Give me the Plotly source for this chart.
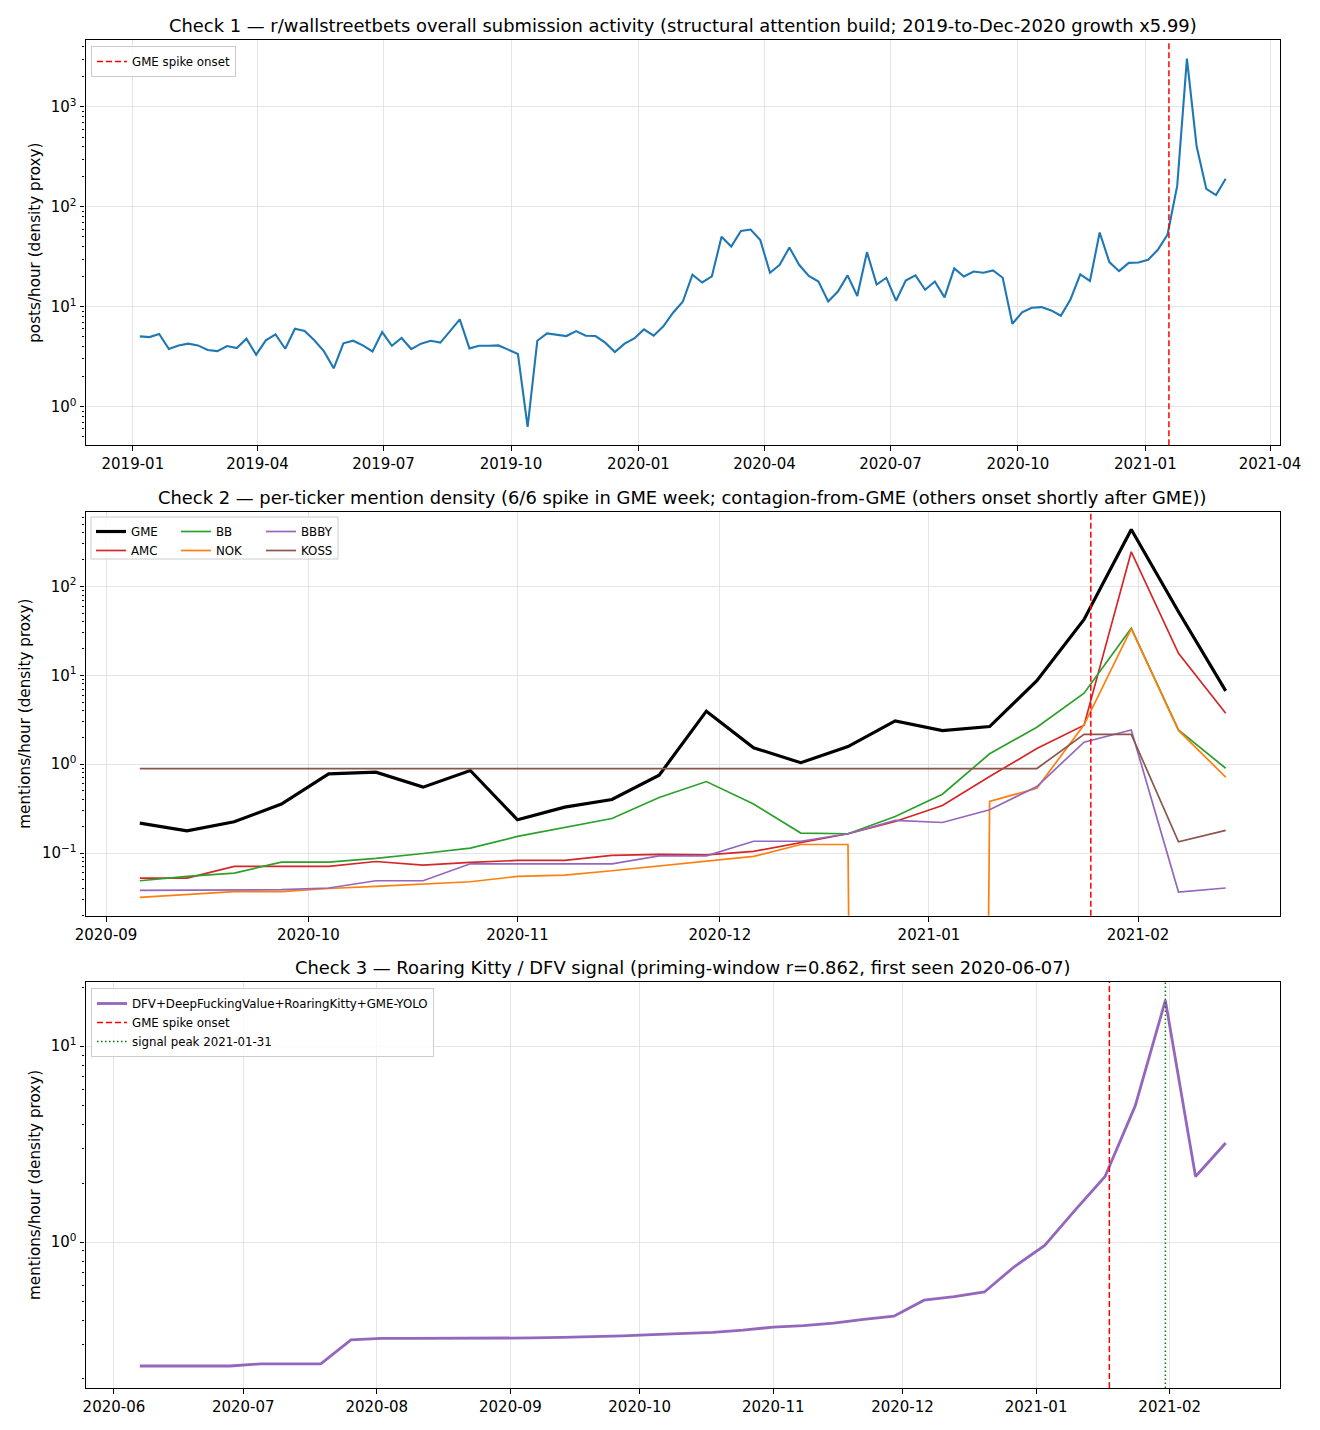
import pandas as pd
import plotly.graph_objects as go

FONT = "DejaVu Sans"
W, H = 1320, 1430
TICK_SIZE = 15.0
TITLE_SIZE = 17.9
LABEL_SIZE = 15.2
LEGEND_SIZE = 11.8

# ---------------- data ----------------
# Check 1: weekly r/wallstreetbets submissions (posts/hour), weeks starting 2019-01-06
p1_start = "2019-01-06"
wsb_posts_per_hour = [
    5.05, 4.97, 5.33, 3.77, 4.10, 4.27, 4.10, 3.69, 3.60, 4.04,
    3.86, 4.79, 3.31, 4.61, 5.29, 3.80, 6.03, 5.71, 4.61, 3.57,
    2.42, 4.30, 4.57, 4.10, 3.57, 5.58, 4.07, 4.86, 3.77, 4.27,
    4.57, 4.37, 5.71, 7.47, 3.83, 4.07, 4.07, 4.10, 3.72, 3.36,
    0.626, 4.57, 5.41, 5.21, 5.09, 5.71, 5.13, 5.09, 4.37, 3.52,
    4.27, 4.82, 5.93, 5.13, 6.36, 8.71, 11.2, 20.9, 17.5, 20.1,
    50.1, 40.1, 57.5, 59.3, 46.4, 21.9, 26.3, 39.2, 26.3, 20.3,
    17.9, 11.3, 14.2, 20.6, 12.8, 35.2, 16.7, 19.5, 11.5, 18.3,
    20.6, 14.8, 17.9, 12.4, 24.2, 20.1, 22.5, 21.9, 23.1, 19.5,
    6.76, 8.78, 9.77, 9.92, 9.19, 8.13, 11.9, 21.1, 18.1, 55.3,
    28.0, 22.7, 27.5, 27.7, 29.5, 37.2, 52.8, 163, 3043, 404,
    151, 131, 191,
]
onset_p1 = "2021-01-18"

# Check 2: per-ticker mention density, weeks starting 2020-09-06
p2_start = "2020-09-06"
gme = [0.217, 0.178, 0.225, 0.356, 0.778, 0.813, 0.552, 0.85, 0.237, 0.329, 0.401, 0.752,
       3.95, 1.53, 1.04, 1.58, 3.07, 2.39, 2.65, 8.7, 42.5, 436, 51.9, 6.67]
amc = [0.0524, 0.0524, 0.0708, 0.0708, 0.0708, 0.0805, 0.0733, 0.0785, 0.0828, 0.083, 0.0942, 0.0966,
       0.0955, 0.1045, 0.132, 0.165, 0.227, 0.343, 0.727, 1.50, 2.74, 245, 17.7, 3.74]
bb = [0.0489, 0.0547, 0.0596, 0.0792, 0.0792, 0.0871, 0.099, 0.1137, 0.154, 0.194, 0.245, 0.422,
      0.638, 0.356, 0.168, 0.165, 0.258, 0.46, 1.31, 2.61, 6.28, 33.8, 2.43, 0.90]
nok = [0.0318, 0.034, 0.0368, 0.0369, 0.040, 0.0422, 0.0444, 0.0476, 0.0547, 0.0566, 0.0633, 0.0721,
       0.0806, 0.0918, 0.125, 0.125, 0, 0, 0.381, 0.537, 2.77, 33.5, 2.40, 0.714]
bbby = [0.0381, 0.0381, 0.0381, 0.0388, 0.0405, 0.0489, 0.0489, 0.0758, 0.0758, 0.0758, 0.0758, 0.0933,
        0.0933, 0.136, 0.136, 0.165, 0.233, 0.221, 0.307, 0.561, 1.77, 2.43, 0.0365, 0.0405]
koss = [0.894] * 20 + [2.17, 2.17, 0.134, 0.180]
onset_p2 = "2021-01-25"

# Check 3: Roaring Kitty / DFV signal, weeks starting 2020-06-07
p3_start = "2020-06-07"
dfv = [0.233, 0.233, 0.233, 0.233, 0.239, 0.239, 0.239, 0.317, 0.322, 0.322,
       0.322, 0.322, 0.323, 0.324, 0.326, 0.328, 0.332, 0.337, 0.341, 0.346,
       0.355, 0.368, 0.374, 0.386, 0.403, 0.418, 0.505, 0.527, 0.556, 0.75,
       0.96, 1.45, 2.16, 4.95, 17.1, 2.16, 3.2]
onset_p3 = "2021-01-18"
peak_p3 = "2021-01-31"

# ---------------- helpers ----------------
def weekly(start, n):
    return pd.date_range(start, periods=n, freq="7D")

def padded(dates, frac=0.05):
    span = dates[-1] - dates[0]
    return [(dates[0] - frac * span).strftime("%Y-%m-%d %H:%M"),
            (dates[-1] + frac * span).strftime("%Y-%m-%d %H:%M")]

def sup(k):
    s = str(k).replace("-", "\u2212")
    return f"10<sup>{s}</sup>"

def log_axis(lo, hi, domain, anchor):
    kmin, kmax = int(lo) - 1, int(hi) + 1
    major = [10.0 ** k for k in range(kmin, kmax + 1)]
    text = [sup(k) for k in range(kmin, kmax + 1)]
    minor = [m * 10.0 ** k for k in range(kmin, kmax + 1) for m in range(2, 10)]
    return dict(
        type="log", range=[lo, hi], domain=domain, anchor=anchor,
        tickmode="array", tickvals=major, ticktext=text,
        showline=True, linecolor="black", linewidth=1.1, mirror=True,
        ticks="outside", ticklen=4.9, tickwidth=1.1, tickcolor="black",
        showgrid=True, gridcolor="#e4e4e4", gridwidth=1.1, zeroline=False,
        tickfont=dict(family=FONT, size=TICK_SIZE, color="black"),
        minor=dict(tickvals=minor, ticks="outside", ticklen=2.8, tickwidth=0.8,
                   tickcolor="black", showgrid=False),
        automargin=False,
    )

def date_axis(rng, dtick, tick0, domain, anchor):
    return dict(
        type="date", range=rng, domain=domain, anchor=anchor,
        dtick=dtick, tick0=tick0, tickformat="%Y-%m",
        showline=True, linecolor="black", linewidth=1.1, mirror=True,
        ticks="outside", ticklen=4.9, tickwidth=1.1, tickcolor="black",
        showgrid=True, gridcolor="#e4e4e4", gridwidth=1.1, zeroline=False,
        tickfont=dict(family=FONT, size=TICK_SIZE, color="black"),
        automargin=False,
    )

def px_x(p):
    return p / W

def px_y(p):
    return 1 - p / H

d1 = weekly(p1_start, len(wsb_posts_per_hour))
d2 = weekly(p2_start, len(gme))
d3 = weekly(p3_start, len(dfv))

xdom = [px_x(85.5), px_x(1280)]
ydom1 = [px_y(445.3), px_y(40.3)]
ydom2 = [px_y(915.7), px_y(511.7)]
ydom3 = [px_y(1388), px_y(982)]

fig = go.Figure()

# Panel 1
fig.add_trace(go.Scatter(x=d1, y=wsb_posts_per_hour, mode="lines",
                         line=dict(color="#1f77b4", width=2.1),
                         showlegend=False, xaxis="x", yaxis="y"))

# Panel 2 (log axis clips non-positive values to a tiny number, like matplotlib)
def clip_pos(vals):
    return [v if v > 0 else 1e-60 for v in vals]

tickers = [
    ("GME", gme, "black", 3.2, "legend2", 1),
    ("AMC", amc, "#d62728", 1.7, "legend2", 2),
    ("BB", bb, "#2ca02c", 1.7, "legend3", 1),
    ("NOK", nok, "#ff7f0e", 1.7, "legend3", 2),
    ("BBBY", bbby, "#9467bd", 1.7, "legend4", 1),
    ("KOSS", koss, "#8c564b", 1.7, "legend4", 2),
]
for name, vals, color, width, leg, rank in tickers:
    fig.add_trace(go.Scatter(x=d2, y=clip_pos(vals), mode="lines", name=name,
                             line=dict(color=color, width=width),
                             legend=leg, legendrank=rank,
                             xaxis="x2", yaxis="y2"))

# Panel 3
fig.add_trace(go.Scatter(x=d3, y=dfv, mode="lines",
                         name="DFV+DeepFuckingValue+RoaringKitty+GME-YOLO",
                         line=dict(color="#9467bd", width=2.8),
                         legend="legend5", legendrank=1,
                         xaxis="x3", yaxis="y3"))

red_line = dict(color="red", width=1.5, dash="6px,3px")
shapes = [
    dict(type="line", xref="x", yref="y domain", x0=onset_p1, x1=onset_p1, y0=0, y1=1,
         line=red_line, showlegend=True, name="GME spike onset", legend="legend"),
    dict(type="line", xref="x2", yref="y2 domain", x0=onset_p2, x1=onset_p2, y0=0, y1=1,
         line=red_line, showlegend=False),
    dict(type="line", xref="x3", yref="y3 domain", x0=onset_p3, x1=onset_p3, y0=0, y1=1,
         line=red_line, showlegend=True, name="GME spike onset", legend="legend5",
         legendrank=2),
    dict(type="line", xref="x3", yref="y3 domain", x0=peak_p3, x1=peak_p3, y0=0, y1=1,
         line=dict(color="green", width=1.5, dash="1.5px,2.5px"), showlegend=True,
         name="signal peak 2021-01-31", legend="legend5", legendrank=3),
    # common frame for the 3-column ticker legend
    dict(type="rect", xref="paper", yref="paper",
         x0=px_x(91), x1=px_x(338), y0=px_y(559), y1=px_y(517),
         fillcolor="rgba(255,255,255,0.8)", line=dict(color="#cccccc", width=1),
         layer="above"),
]

legfont = dict(family=FONT, size=LEGEND_SIZE, color="black")
boxed = dict(bgcolor="rgba(255,255,255,0.8)", bordercolor="#cccccc", borderwidth=1,
             font=legfont, xanchor="left", yanchor="top", tracegroupgap=0)
bare = dict(bgcolor="rgba(0,0,0,0)", borderwidth=0, font=legfont,
            xanchor="left", yanchor="top", tracegroupgap=0)

titles = [
    ("Check 1 \u2014 r/wallstreetbets overall submission activity (structural attention build; 2019-to-Dec-2020 growth x5.99)", 25.5),
    ("Check 2 \u2014 per-ticker mention density (6/6 spike in GME week; contagion-from-GME (others onset shortly after GME))", 497),
    ("Check 3 \u2014 Roaring Kitty / DFV signal (priming-window r=0.862, first seen 2020-06-07)", 967.5),
]
ylabels = [
    ("posts/hour (density proxy)", 35, (40.3 + 445.3) / 2),
    ("mentions/hour (density proxy)", 25, (511.7 + 915.7) / 2),
    ("mentions/hour (density proxy)", 35, (982 + 1388) / 2),
]
annotations = []
for text, ypx in titles:
    annotations.append(dict(text=text, xref="paper", yref="paper",
                            x=px_x((85.5 + 1280) / 2), y=px_y(ypx),
                            xanchor="center", yanchor="middle", showarrow=False,
                            font=dict(family=FONT, size=TITLE_SIZE, color="black")))
for text, xpx, ypx in ylabels:
    annotations.append(dict(text=text, xref="paper", yref="paper",
                            x=px_x(xpx), y=px_y(ypx), textangle=-90,
                            xanchor="center", yanchor="middle", showarrow=False,
                            font=dict(family=FONT, size=LABEL_SIZE, color="black")))

fig.update_layout(
    width=W, height=H,
    margin=dict(l=0, r=0, t=0, b=0),
    paper_bgcolor="white", plot_bgcolor="white",
    font=dict(family=FONT, color="black", size=TICK_SIZE),
    xaxis=date_axis(padded(d1), "M3", "2019-01-01", xdom, "y"),
    yaxis=log_axis(-0.387, 3.667, ydom1, "x"),
    xaxis2=date_axis(padded(d2), "M1", "2020-09-01", xdom, "y2"),
    yaxis2=log_axis(-1.704, 2.84, ydom2, "x2"),
    xaxis3=date_axis(padded(d3), "M1", "2020-06-01", xdom, "y3"),
    yaxis3=log_axis(-0.745, 1.327, ydom3, "x3"),
    legend=dict(x=px_x(91), y=px_y(46), **boxed),
    legend2=dict(x=px_x(91), y=px_y(517), **bare),
    legend3=dict(x=px_x(176), y=px_y(517), **bare),
    legend4=dict(x=px_x(261), y=px_y(517), **bare),
    legend5=dict(x=px_x(91), y=px_y(988), **boxed),
    shapes=shapes,
    annotations=annotations,
    showlegend=True,
)

fig.write_html("out.html")
